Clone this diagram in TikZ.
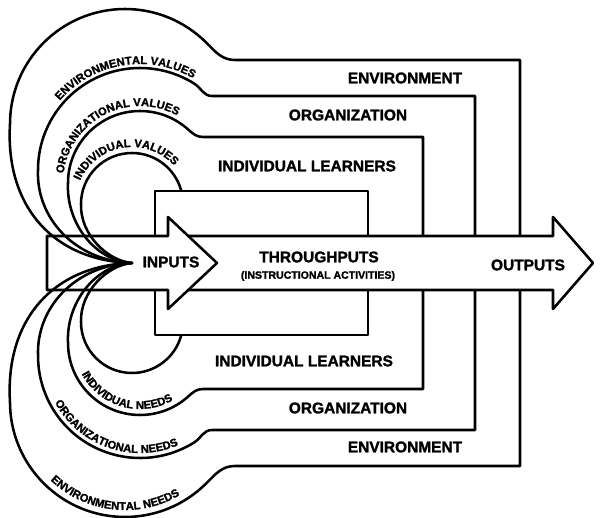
\documentclass[tikz,border=0pt]{standalone}
\usepackage{fontspec}
\setmainfont{Liberation Sans}
\newfontfamily\heavy[FakeBold=1.6]{Liberation Sans Bold}
\usetikzlibrary{decorations.text}
\tikzset{
  wall/.style={line width=1.8pt, line join=round},
  tag/.style={font=\heavy\fontsize{11}{12}\selectfont, inner sep=0pt},
  smalltag/.style={font=\heavy\fontsize{7.5}{8}\selectfont, inner sep=0pt},
  arctag/.style={decorate, decoration={text along path, text align=center,
      text={|\heavy\fontsize{8}{9}\selectfont|#1}}},
}
\begin{document}
\begin{tikzpicture}[x=0.025cm, y=0.025cm, line join=round, line cap=round]
\useasboundingbox (0,-255) rectangle (600,263);
\coordinate (tip) at (132,0);
\coordinate (cind) at (132,59);
\coordinate (cindb) at (132,-59);
\coordinate (clrn) at (140,80);
\coordinate (clrnb) at (140,-80);
\coordinate (corg) at (140,93);
\coordinate (corgb) at (140,-93);
\coordinate (cenv) at (125,139);
\coordinate (cenvb) at (125,-139);

% environment
\draw[wall] (tip) .. controls (55,2) and (5,55) .. (10,139)
  arc[start angle=180, end angle=45, radius=115]
  to[out=-45, in=180] (235,203) -- (520,203) -- (520,-203) -- (235,-203)
  to[out=180, in=45] (206.3,-220.3)
  arc[start angle=-45, end angle=-180, radius=115]
  .. controls (5,-55) and (55,-2) .. (tip);
% organization
\draw[wall] (tip) .. controls (75,2) and (36,45) .. (38,93)
  arc[start angle=180, end angle=58, radius=102]
  to[out=-32, in=180] (212,167) -- (475,167) -- (475,-167) -- (212,-167)
  to[out=180, in=32] (194.1,-179.5)
  arc[start angle=-58, end angle=-180, radius=102]
  .. controls (36,-45) and (75,-2) .. (tip);
% individual learners
\draw[wall] (tip) .. controls (95,2) and (66,40) .. (68,80)
  arc[start angle=180, end angle=48, radius=72]
  to[out=-42, in=180] (203,126) -- (423,126) -- (423,-126) -- (203,-126)
  to[out=180, in=42] (188.2,-133.5)
  arc[start angle=-48, end angle=-180, radius=72]
  .. controls (66,-40) and (95,-2) .. (tip);
% individual values / needs
\draw[wall] (tip) .. controls (108,2) and (80,28) .. (81,59)
  arc[start angle=180, end angle=14.8, radius=51];
\draw[wall] (tip) .. controls (108,-2) and (80,-28) .. (81,-59)
  arc[start angle=-180, end angle=-14.8, radius=51];
\draw[wall] (155,-72) rectangle (368,72);

% main arrow
\fill[white] (140,27) -- (553,27) -- (553,46) -- (593,0) -- (553,-46)
  -- (553,-27) -- (140,-27) -- cycle;
\draw[wall] (47,27) -- (553,27) -- (553,46) -- (593,0) -- (553,-46)
  -- (553,-27) -- (47,-27) -- cycle;
% inputs head
\fill[white] (168,46) -- (217,0) -- (168,-46) -- cycle;
\draw[wall] (168,27) -- (168,46) -- (217,0) -- (168,-46) -- (168,-27);

\node[tag] (envtop) at (405,185) {ENVIRONMENT};
\node[tag] (envbot) at (405,-184) {ENVIRONMENT};
\node[tag] (orgtop) at (348,148) {ORGANIZATION};
\node[tag] (orgbot) at (348,-145) {ORGANIZATION};
\node[tag] (lrntop) at (307,97) {INDIVIDUAL LEARNERS};
\node[tag] (lrnbot) at (304,-98) {INDIVIDUAL LEARNERS};
\node[tag] (inputs) at (171,1) {INPUTS};
\node[tag] (through) at (319,6) {THROUGHPUTS};
\node[smalltag] (activ) at (318,-13) {(INSTRUCTIONAL ACTIVITIES)};
\node[tag] (outputs) at (528,-2) {OUTPUTS};

\path[arctag={INDIVIDUAL VALUES}] (cind) ++(165:57)
  arc[start angle=165, end angle=33, radius=57];
\path[arctag={ORGANIZATIONAL VALUES}] (clrn) ++(178:77)
  arc[start angle=178, end angle=56, radius=77];
\path[arctag={ENVIRONMENTAL VALUES}] (corg) ++(143:106)
  arc[start angle=143, end angle=56, radius=106];
\path[arctag={INDIVIDUAL NEEDS}] (clrnb) ++(-158:66)
  arc[start angle=-158, end angle=-54, radius=66];
\path[arctag={ORGANIZATIONAL NEEDS}] (corgb) ++(-157:97)
  arc[start angle=-157, end angle=-61, radius=97];
\path[arctag={ENVIRONMENTAL NEEDS}] (cenvb) ++(-140:108)
  arc[start angle=-140, end angle=-53, radius=108];
\end{tikzpicture}
\end{document}
